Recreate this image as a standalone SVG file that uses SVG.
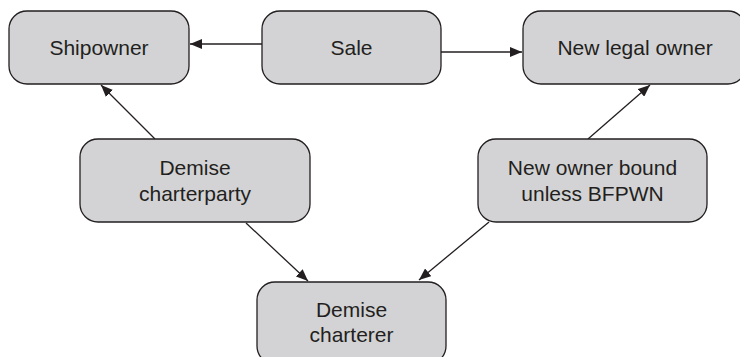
<svg xmlns="http://www.w3.org/2000/svg" width="740" height="357" viewBox="0 0 740 357">
<style>
.box{fill:#d3d3d5;stroke:#231f20;stroke-width:1.3}
.lbl{font-family:"Liberation Sans",Arial,sans-serif;font-size:21px;fill:#231f20;text-anchor:middle}
.con{stroke:#231f20;stroke-width:1.3;fill:none;marker-end:url(#ah)}
</style>
<defs>
<marker id="ah" viewBox="0 0 12 10" refX="12" refY="5" markerWidth="12" markerHeight="10" markerUnits="userSpaceOnUse" orient="auto">
<path d="M0,0 L12,5 L0,10 z" fill="#231f20"/>
</marker>
</defs>
<rect width="740" height="357" fill="#ffffff"/>
<g id="connectors">
<line class="con" x1="262" y1="44" x2="190" y2="44"/>
<line class="con" x1="441" y1="52" x2="522" y2="52"/>
<line class="con" x1="155" y1="139" x2="101" y2="85"/>
<line class="con" x1="246" y1="223" x2="308" y2="281"/>
<line class="con" x1="489" y1="222" x2="419" y2="280"/>
<line class="con" x1="588" y1="139" x2="650" y2="85"/>
</g>
<g id="shipowner">
<rect class="box" x="9" y="11" width="180" height="73" rx="18"/>
<text class="lbl" x="99" y="55">Shipowner</text>
</g>
<g id="sale">
<rect class="box" x="262" y="11" width="179" height="73" rx="18"/>
<text class="lbl" x="351.5" y="55">Sale</text>
</g>
<g id="new-legal-owner">
<rect class="box" x="523" y="11" width="223" height="73" rx="18"/>
<text class="lbl" x="635" y="55">New legal owner</text>
</g>
<g id="demise-charterparty">
<rect class="box" x="80" y="139" width="230" height="83" rx="18"/>
<text class="lbl" x="195" y="175">Demise</text>
<text class="lbl" x="195" y="201">charterparty</text>
</g>
<g id="new-owner-bound">
<rect class="box" x="478" y="139" width="229" height="83" rx="18"/>
<text class="lbl" x="592.5" y="175">New owner bound</text>
<text class="lbl" x="592.5" y="201">unless BFPWN</text>
</g>
<g id="demise-charterer">
<rect class="box" x="257" y="282" width="189" height="82" rx="18"/>
<text class="lbl" x="351.5" y="317">Demise</text>
<text class="lbl" x="351.5" y="342">charterer</text>
</g>
</svg>
